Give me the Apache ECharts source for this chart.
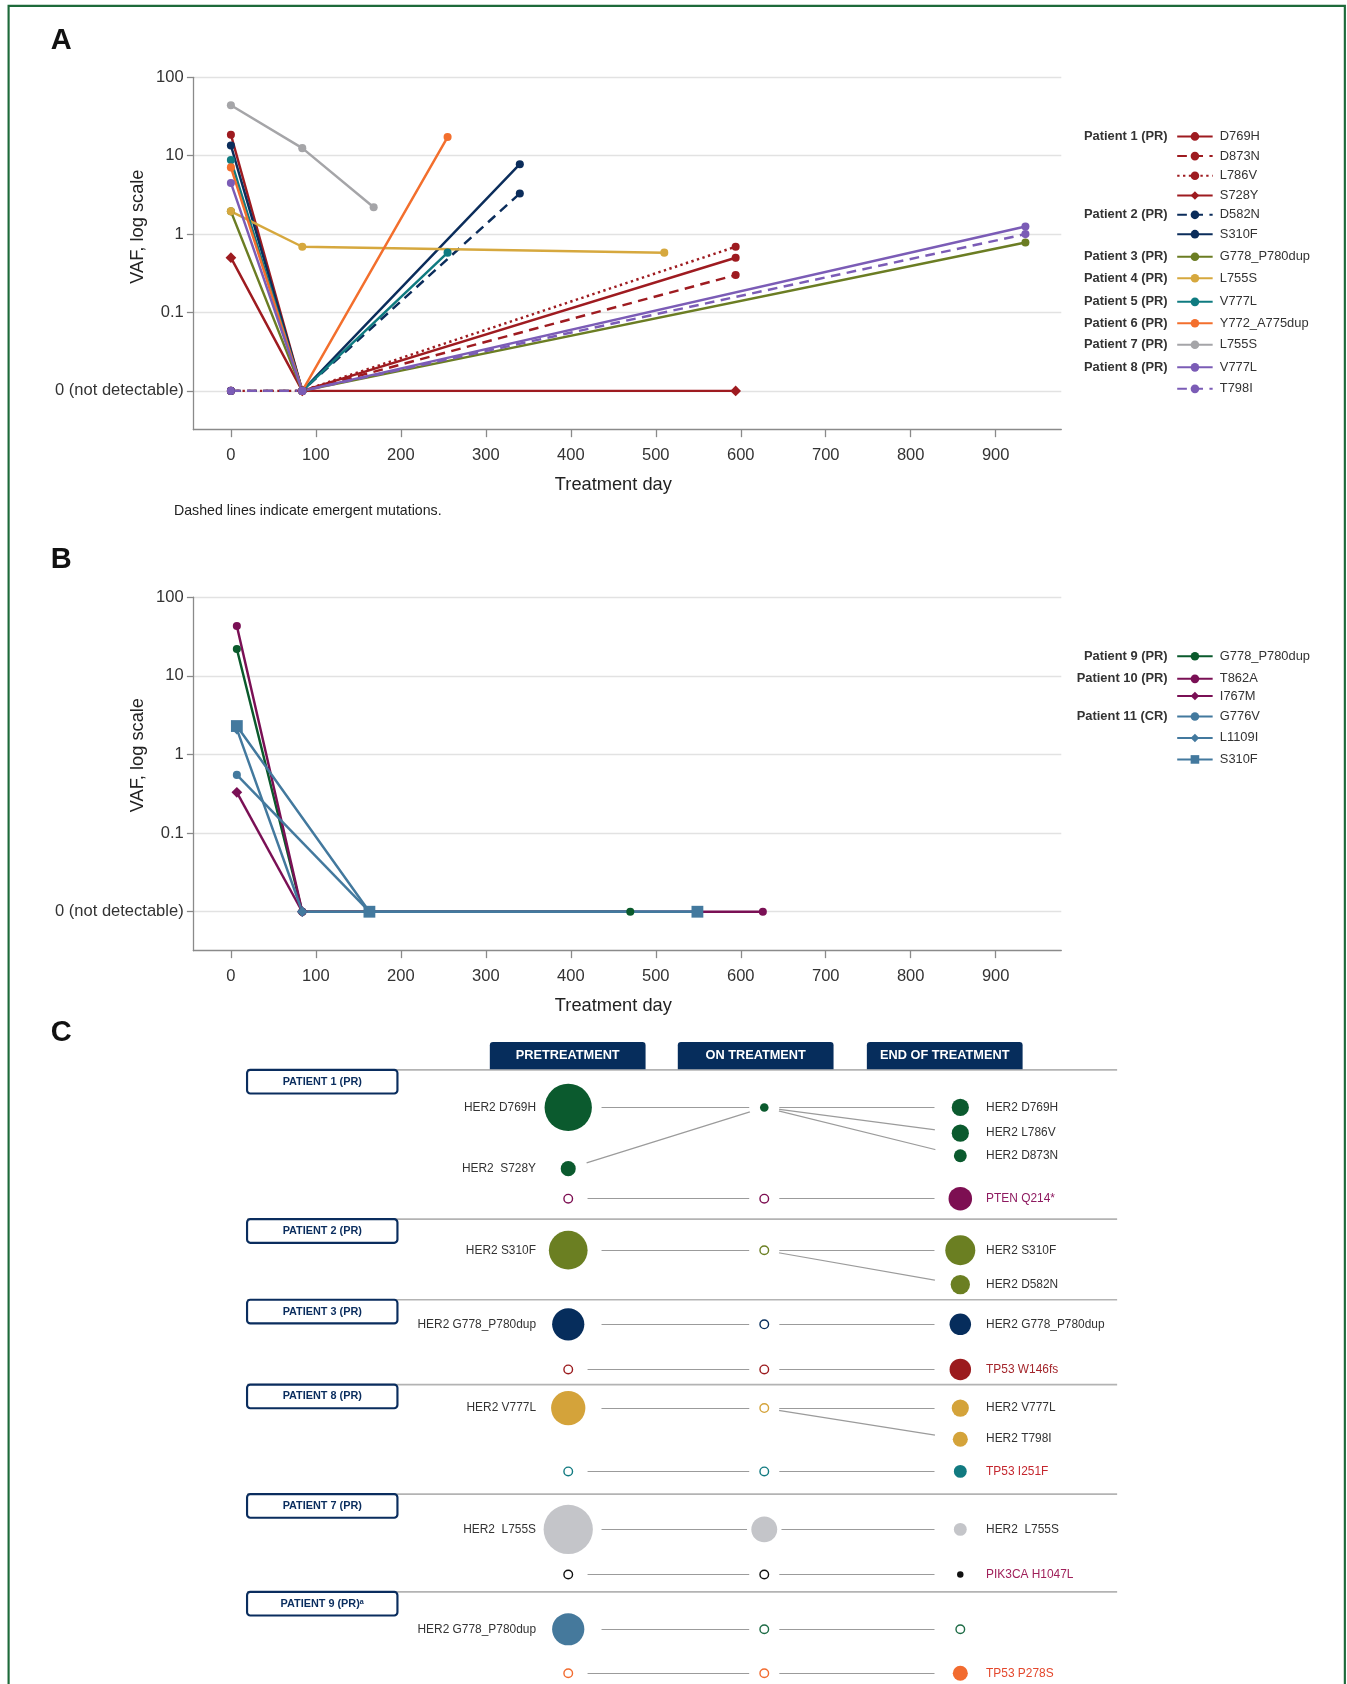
<!DOCTYPE html>
<html><head><meta charset="utf-8">
<script src="https://cdn.jsdelivr.net/npm/echarts@6/dist/echarts.min.js"></script>
<style>html,body{margin:0;padding:0;background:#fff}#c{width:1347px;height:1684px}</style>
</head><body><div id="c"></div>
<script>
// ================= DATA =================
const ND = 0.01; // plotted position of "0 (not detectable)"
// ---- Panel A : [treatment day, VAF %] ----
const aP1_D769H = [[0,18.5],[84,ND],[594,0.5]];
const aP1_D873N = [[0,ND],[84,ND],[594,0.3]];
const aP1_L786V = [[0,ND],[84,ND],[594,0.69]];
const aP1_S728Y = [[0,0.5],[84,ND],[594,ND]];
const aP2_D582N = [[0,ND],[84,ND],[340,3.3]];
const aP2_S310F = [[0,13.5],[84,ND],[340,7.8]];
const aP3_G778 = [[0,1.95],[84,ND],[935,0.78]];
const aP4_L755S = [[0,1.95],[84,0.69],[510,0.58]];
const aP5_V777L = [[0,8.8],[84,ND],[255,0.58]];
const aP6_Y772 = [[0,7.1],[84,ND],[255,17.3]];
const aP7_L755S = [[0,44],[84,12.5],[168,2.2]];
const aP8_V777L = [[0,4.5],[84,ND],[935,1.25]];
const aP8_T798I = [[0,ND],[84,ND],[935,1.0]];
const aPatients = ['Patient 1 (PR)','Patient 2 (PR)','Patient 3 (PR)','Patient 4 (PR)','Patient 5 (PR)','Patient 6 (PR)','Patient 7 (PR)','Patient 8 (PR)'];
// ---- Panel B ----
const bP9_G778 = [[7,22],[84,ND],[470,ND]];
const bP10_T862A = [[7,43],[84,ND],[626,ND]];
const bP10_I767M = [[7,0.33],[84,ND]];
const bP11_G776V = [[7,0.55],[163,ND]];
const bP11_L1109I = [[7,2.1],[84,ND],[549,ND]];
const bP11_S310F = [[7,2.3],[163,ND],[549,ND]];
const bPatients = ['Patient 9 (PR)','Patient 10 (PR)','Patient 11 (CR)'];
// ---- Axis tick labels ----
const dayTicks = [0,100,200,300,400,500,600,700,800,900];
const vafTicks = [ND,0.1,1,10,100];
const vafTickLabels = {'-2':'0 (not detectable)','-1':'0.1','0':'1','1':'10','2':'100'};
// ---- Panel C : VAF per stage (null = not shown, 0 = not detected) ----
const cStages = ['PRETREATMENT','ON TREATMENT','END OF TREATMENT'];
const cPatients = ['PATIENT 1 (PR)','PATIENT 2 (PR)','PATIENT 3 (PR)','PATIENT 8 (PR)','PATIENT 7 (PR)','PATIENT 9 (PR)ᵃ'];
const cGenes = ['HER2 D769H','HER2 L786V','HER2 D873N','HER2  S728Y','PTEN Q214*','HER2 S310F','HER2 D582N','HER2 G778_P780dup','TP53 W146fs','HER2 V777L','HER2 T798I','TP53 I251F','HER2  L755S','PIK3CA H1047L','HER2 G778_P780dup','TP53 P278S'];
const cLinkedRow = [0,0,0,0,4,5,5,7,8,9,9,11,12,13,14,15];
const cPre = [19.4,null,null,1.96,0, 13,null, 9,0, 10.2,null,0, 21,0, 9,0];
const cOn  = [0.64,null,null,null,0, 0,null, 0,0, 0,null,0, 5.8,0, 0,0];
const cEnd = [2.56,2.56,1.44,null,4.8, 7.8,3.24, 4,4, 2.56,1.96,1.44, 1.44,0.36, 0,1.96];

// ================= LAYOUT & STYLE =================
const S = 1347/1254;
const p = v => v*S;
const SANS = '"Liberation Sans", Arial, Helvetica, sans-serif';
function hasFont(name){const c=document.createElement('canvas').getContext('2d');const t='HER2 G778_P780dup WWWmmm';c.font='40px monospace';const w0=c.measureText(t).width;c.font='40px "'+name+'", monospace';return Math.abs(c.measureText(t).width-w0)>0.5;}
let NARROW = SANS, NF = 0.88;
if (hasFont('Liberation Sans Narrow')) { NARROW = '"Liberation Sans Narrow", ' + SANS; NF = 1; }
else if (hasFont('Arial Narrow')) { NARROW = '"Arial Narrow", ' + SANS; NF = 1; }

const colA = ['#9e1b20','#0b2d5b','#6b7d23','#d6a83e','#0f7b80','#f36f2d','#a5a5a8','#7b5cb6'];
const colB = ['#0a5a2c','#7a1055','#43799e'];
const DASH = [p(9),p(6)], DOT = [p(2.2),p(3.2)];
const defsA = [
  [0,'D769H',aP1_D769H,'solid','circle'],[0,'D873N',aP1_D873N,DASH,'circle'],[0,'L786V',aP1_L786V,DOT,'circle'],[0,'S728Y',aP1_S728Y,'solid','diamond'],
  [1,'D582N',aP2_D582N,DASH,'circle'],[1,'S310F',aP2_S310F,'solid','circle'],
  [2,'G778_P780dup',aP3_G778,'solid','circle'],[3,'L755S',aP4_L755S,'solid','circle'],[4,'V777L',aP5_V777L,'solid','circle'],
  [5,'Y772_A775dup',aP6_Y772,'solid','circle'],[6,'L755S',aP7_L755S,'solid','circle'],
  [7,'V777L',aP8_V777L,'solid','circle'],[7,'T798I',aP8_T798I,DASH,'circle']
];
const defsB = [
  [0,'G778_P780dup',bP9_G778,'solid','circle'],[1,'T862A',bP10_T862A,'solid','circle'],[1,'I767M',bP10_I767M,'solid','diamond'],
  [2,'G776V',bP11_G776V,'solid','circle'],[2,'L1109I',bP11_L1109I,'solid','diamond'],[2,'S310F',bP11_S310F,'solid','rect']
];
// legend layout (first item centre y, item spacing) in reference px
const legA = [[127,18.33],[200,18],[239,20],[259,20],[281,20],[301,20],[321,20],[342,20]];
const legB = [[611,20],[632,16],[667,20]];
// panel C layout
const cRowY = [1031,1055,1076,1088,1116, 1164,1196, 1233,1275, 1311,1340,1370, 1424,1466, 1517,1558];
const cBlockTop = [996,1135,1210,1289,1391,1482];
const cTabX = [456,631,807];
const cDotColor = ['#0b5a2e','#0b5a2e','#0b5a2e','#0b5a2e','#7d0f52','#6b7f22','#6b7f22','#062d5c','#9b1b1e','#d4a33a','#d4a33a','#117a80','#c4c5c9','#111111','#45799c','#f26b2f'];
const cHollowColor = {14:'#1d6b45'};
const cLabelColor = ['#333','#333','#333','#333','#8e1a60','#333','#333','#333','#a4262c','#333','#333','#c4262e','#333','#a0205a','#333','#e4472c'];

// ================= BUILD =================
function vafLabel(v){const e=Math.log10(v);const r=Math.round(e);if(Math.abs(e-r)>1e-6)return '';return vafTickLabels[String(r)]||'';}
function dayLabel(v){const r=Math.round(v);return (Math.abs(v-r)<1e-6 && dayTicks.indexOf(r)>=0)?String(r):'';}
function xAx(g){return {gridIndex:g,type:'value',min:-44.2,max:977.2,splitNumber:10,
  axisLine:{show:true,onZero:false,lineStyle:{color:'#8a8a8a',width:p(1.2)}},
  axisTick:{show:true,length:p(7),customValues:dayTicks,lineStyle:{color:'#8a8a8a',width:p(1.2)}},
  axisLabel:{fontSize:p(15.4),color:'#333',margin:p(16),customValues:dayTicks,formatter:dayLabel},
  splitLine:{show:false},
  name:'Treatment day',nameLocation:'middle',nameGap:p(43.5),nameTextStyle:{fontSize:p(17),color:'#222',padding:[0,p(26),0,0]}};}
function yAx(g){return {gridIndex:g,type:'log',logBase:10,min:0.0032,max:100,
  axisLine:{show:true,onZero:false,lineStyle:{color:'#8a8a8a',width:p(1.2)}},
  axisTick:{show:true,length:p(6),customValues:vafTicks,lineStyle:{color:'#8a8a8a',width:p(1.2)}},
  axisLabel:{fontSize:p(15.4),color:'#333',margin:p(9),customValues:vafTicks,formatter:vafLabel},
  splitLine:{show:true,lineStyle:{color:'#e2e2e2',width:p(1.2)}}};}

const series = [], legends = [], graphics = [];
function addPanel(defs, cols, patients, leg, g, prefix){
  const groups = patients.map(()=>[]);
  defs.forEach(d=>{
    const [pi,mut,data,ltype,sym] = d;
    const name = prefix+(pi)+'|'+mut;
    groups[pi].push(name);
    const size = sym==='circle'?p(7.5):(sym==='diamond'?p(10):p(11));
    series.push({type:'line',name,xAxisIndex:g,yAxisIndex:g,data,symbol:sym,symbolSize:size,showSymbol:true,
      lineStyle:{color:cols[pi],width:p(2.3),type:ltype},itemStyle:{color:cols[pi]},emphasis:{disabled:true},silent:true,animation:false});
  });
  groups.forEach((names,pi)=>{
    const [yc,sp] = leg[pi];
    const ih = p(14);
    legends.push({orient:'vertical',left:p(1095),top:p(yc)-ih/2,padding:0,itemWidth:p(33),itemHeight:p(10),itemGap:p(sp)-ih,
      selectedMode:false,data:names,formatter:n=>n.split('|')[1],
      textStyle:{fontSize:p(12),color:'#333',lineHeight:ih,fontFamily:SANS,padding:[0,0,0,p(2)]}});
    graphics.push({type:'text',x:p(1087),y:p(yc),z:10,style:{text:patients[pi],align:'right',verticalAlign:'middle',fontSize:p(12),fontWeight:'bold',fill:'#333',fontFamily:SANS}});
  });
}
addPanel(defsA,colA,aPatients,legA,0,'A');
addPanel(defsB,colB,bPatients,legB,1,'B');

// panel C
const cNodes=[], cMasks=[], cLinks=[];
const stageVals=[cPre,cOn,cEnd];
for(let r=0;r<cGenes.length;r++){
  const y=cRowY[r];
  for(let s=0;s<3;s++){
    const v=stageVals[s][r];
    if(v==null)continue;
    const filled=v>0;
    const dd=filled?10*Math.sqrt(v):8;
    const col=(!filled&&cHollowColor[r])||cDotColor[r];
    const item={value:[s,y,v],symbolSize:p(dd),itemStyle:filled?{color:col,opacity:1}:{color:'#fff',borderColor:col,borderWidth:p(1.3),opacity:1}};
    const txt=cGenes[r];
    if(filled&&s===0) item.label={show:true,position:'left',distance:p(30-dd/2),formatter:()=>txt,color:cLabelColor[r],fontSize:p(12.6*NF),fontFamily:NARROW};
    if(filled&&s===2) item.label={show:true,position:'right',distance:p(24-dd/2),formatter:()=>txt,color:cLabelColor[r],fontSize:p(12.6*NF),fontFamily:NARROW};
    cNodes.push(item);
    const m = s===0?(filled&&dd>20?62:36):(s===1?Math.max(28,dd+8):48);
    cMasks.push({value:[s,y],symbolSize:p(m)});
  }
  const L=cLinkedRow[r];
  if(cPre[r]!=null) cLinks.push({coords:[[0,y],[1,cRowY[L]]]});
  if(cEnd[r]!=null) cLinks.push({coords:[[1,cRowY[L]],[2,y]]});
}
series.push({type:'lines',coordinateSystem:'cartesian2d',xAxisIndex:2,yAxisIndex:2,data:cLinks,polyline:false,
  lineStyle:{color:'#9b9b9b',width:p(1.1),opacity:1},z:1,silent:true,animation:false});
series.push({type:'scatter',xAxisIndex:2,yAxisIndex:2,data:cMasks,symbol:'circle',itemStyle:{color:'#fff',opacity:1},z:2,silent:true,animation:false});
series.push({type:'scatter',xAxisIndex:2,yAxisIndex:2,data:cNodes,symbol:'circle',itemStyle:{opacity:1},z:3,silent:true,animation:false});

// decorations
graphics.push({type:'rect',z:0,shape:{x:p(8),y:p(5.5),width:p(1244),height:2000},style:{fill:'none',stroke:'#1d6a3a',lineWidth:p(2)}});
[['A',38],['B',521],['C',962]].forEach(([t,y])=>graphics.push({type:'text',x:p(57),y:p(y),z:10,style:{text:t,align:'center',verticalAlign:'middle',fontSize:p(27),fontWeight:'bold',fill:'#111',fontFamily:SANS}}));
[211,703].forEach(y=>graphics.push({type:'text',x:p(128),y:p(y),rotation:Math.PI/2,z:10,style:{text:'VAF, log scale',align:'center',verticalAlign:'middle',fontSize:p(17),fill:'#222',fontFamily:SANS}}));
graphics.push({type:'text',x:p(162),y:p(476),z:10,style:{text:'Dashed lines indicate emergent mutations.',align:'left',verticalAlign:'middle',fontSize:p(13.2),fill:'#222',fontFamily:SANS}});
cStages.forEach((t,i)=>{
  graphics.push({type:'rect',z:11,shape:{x:p(cTabX[i]),y:p(970),width:p(145),height:p(25.5),r:[p(3),p(3),0,0]},style:{fill:'#062d5c'}});
  graphics.push({type:'text',z:12,x:p(cTabX[i]+72.5),y:p(983),style:{text:t,align:'center',verticalAlign:'middle',fontSize:p(13.5*NF),fontWeight:'bold',fill:'#fff',fontFamily:NARROW}});
});
cBlockTop.forEach((y,i)=>{
  graphics.push({type:'line',z:10,shape:{x1:p(230),y1:p(y),x2:p(1040),y2:p(y)},style:{stroke:'#b3b3b3',lineWidth:p(1.5)}});
  graphics.push({type:'rect',z:11,shape:{x:p(230),y:p(y),width:p(140),height:p(22),r:p(3)},style:{fill:'#fff',stroke:'#0a2d5e',lineWidth:p(2)}});
  graphics.push({type:'text',z:12,x:p(300),y:p(y+11),style:{text:cPatients[i],align:'center',verticalAlign:'middle',fontSize:p(11.5*NF),fontWeight:'bold',fill:'#0a2d5e',fontFamily:NARROW}});
});

const option = {
  animation:false, backgroundColor:'#fff', textStyle:{fontFamily:SANS},
  grid:[
    {left:p(180),top:p(72),width:p(808),height:p(328)},
    {left:p(180),top:p(556),width:p(808),height:p(329)},
    {left:p(437.75),top:p(970),width:p(547.5),height:p(598)}
  ],
  xAxis:[xAx(0),xAx(1),{gridIndex:2,type:'value',min:-0.5,max:2.5,show:false}],
  yAxis:[yAx(0),yAx(1),{gridIndex:2,type:'value',min:970,max:1568,inverse:true,show:false}],
  legend:legends, graphic:graphics, series
};
const chart = echarts.init(document.getElementById('c'),null,{renderer:'canvas'});
chart.setOption(option);
</script></body></html>
